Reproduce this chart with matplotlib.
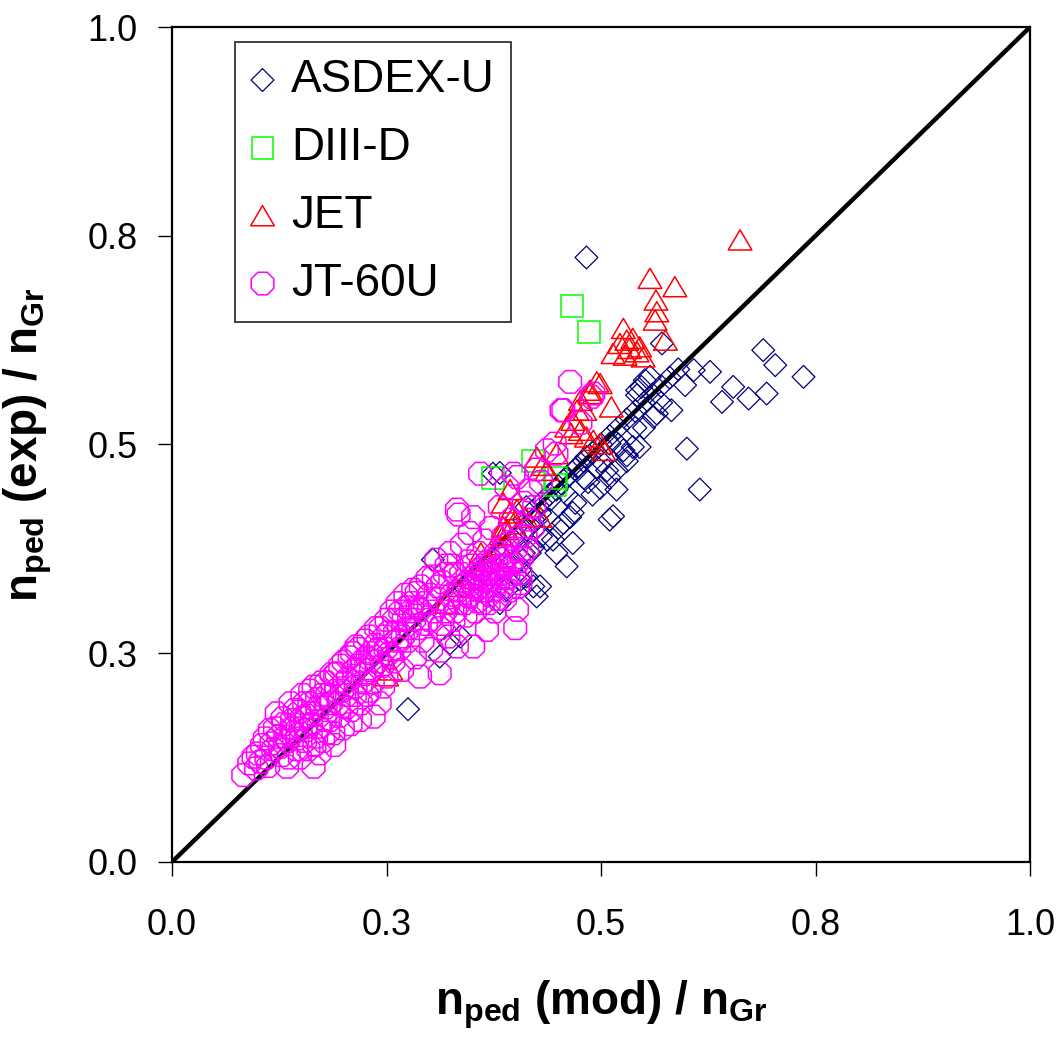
# pedestal density: experiment vs model, four machines
import numpy as np
import matplotlib.pyplot as plt
from matplotlib.path import Path

plt.rcParams['font.family'] = ['Liberation Sans', 'DejaVu Sans']
plt.rcParams['mathtext.fontset'] = 'custom'
plt.rcParams['mathtext.rm'] = 'Liberation Sans'
plt.rcParams['mathtext.bf'] = 'Liberation Sans:bold'
plt.rcParams['mathtext.it'] = 'Liberation Sans:italic'

# 축 눈금 (Excel 식 반올림 라벨)
ticks = [0.0, 0.25, 0.5, 0.75, 1.0]
tick_labels = ['0.0', '0.3', '0.5', '0.8', '1.0']

# ASDEX-U
asdex_x = [0.483, 0.571, 0.689, 0.703, 0.736, 0.627, 0.608, 0.598, 0.654, 0.641, 0.672, 0.693,
           0.551, 0.547, 0.557, 0.542, 0.542, 0.565, 0.582, 0.561, 0.600, 0.615, 0.545, 0.537,
           0.530, 0.526, 0.510, 0.518, 0.507, 0.495, 0.483, 0.472, 0.460, 0.518, 0.499, 0.485,
           0.514, 0.510, 0.467, 0.464, 0.456, 0.448, 0.441, 0.429, 0.421, 0.413, 0.425, 0.444,
           0.437, 0.467, 0.460, 0.448, 0.417, 0.413, 0.421, 0.406, 0.413, 0.429, 0.425, 0.421,
           0.406, 0.390, 0.382, 0.336, 0.324, 0.312, 0.275, 0.304, 0.374, 0.382,
           0.34, 0.36, 0.38, 0.40, 0.42, 0.43, 0.45, 0.47, 0.49, 0.50, 0.52, 0.53, 0.55, 0.56,
           0.58, 0.44, 0.46, 0.48, 0.50, 0.52, 0.54, 0.47, 0.49, 0.51, 0.53, 0.45, 0.43, 0.41,
           0.39, 0.37, 0.41, 0.44, 0.46, 0.48, 0.51, 0.54, 0.57, 0.55, 0.57, 0.59]
asdex_y = [0.724, 0.621, 0.613, 0.595, 0.581, 0.587, 0.589, 0.571, 0.569, 0.551, 0.555, 0.561,
           0.577, 0.569, 0.581, 0.559, 0.565, 0.537, 0.541, 0.533, 0.495, 0.446, 0.497, 0.497,
           0.487, 0.493, 0.501, 0.469, 0.469, 0.473, 0.485, 0.473, 0.461, 0.446, 0.448, 0.455,
           0.414, 0.410, 0.418, 0.413, 0.406, 0.446, 0.434, 0.418, 0.410, 0.425, 0.410, 0.386,
           0.386, 0.382, 0.354, 0.370, 0.370, 0.398, 0.377, 0.350, 0.342, 0.330, 0.318, 0.330,
           0.338, 0.326, 0.310, 0.270, 0.262, 0.246, 0.183, 0.362, 0.465, 0.466,
           0.33, 0.35, 0.37, 0.39, 0.42, 0.43, 0.45, 0.47, 0.49, 0.50, 0.52, 0.53, 0.55, 0.56,
           0.58, 0.41, 0.44, 0.46, 0.48, 0.50, 0.52, 0.43, 0.44, 0.46, 0.48, 0.40, 0.39, 0.37,
           0.36, 0.34, 0.41, 0.44, 0.46, 0.48, 0.51, 0.54, 0.57, 0.52, 0.55, 0.59]

# DIII-D
diiid_x = [0.466, 0.486, 0.421, 0.374, 0.448, 0.446]
diiid_y = [0.666, 0.635, 0.480, 0.460, 0.460, 0.452]

# JET
jet_x = [0.662, 0.557, 0.586, 0.564, 0.565, 0.563, 0.575, 0.526, 0.530, 0.537, 0.522, 0.514,
         0.545, 0.542, 0.533, 0.549, 0.528, 0.495, 0.487, 0.512, 0.476, 0.472, 0.481, 0.467,
         0.476, 0.483, 0.491, 0.503, 0.499, 0.499, 0.487, 0.460, 0.465, 0.448, 0.425, 0.437,
         0.432, 0.394, 0.386, 0.402, 0.429, 0.412, 0.398, 0.390, 0.383, 0.394, 0.386, 0.250,
         0.255, 0.32, 0.35, 0.37, 0.33, 0.36, 0.38]
jet_y = [0.745, 0.699, 0.689, 0.673, 0.659, 0.649, 0.625, 0.639, 0.625, 0.627, 0.621, 0.609,
         0.617, 0.611, 0.615, 0.605, 0.607, 0.575, 0.561, 0.545, 0.553, 0.541, 0.541, 0.529,
         0.517, 0.509, 0.505, 0.493, 0.501, 0.573, 0.565, 0.521, 0.513, 0.489, 0.485, 0.469,
         0.475, 0.446, 0.430, 0.422, 0.413, 0.413, 0.405, 0.398, 0.392, 0.418, 0.401, 0.223,
         0.230, 0.31, 0.34, 0.36, 0.33, 0.37, 0.38]

# JT-60U
jt_x = [0.083, 0.095, 0.098, 0.105, 0.110, 0.114, 0.118, 0.122, 0.124, 0.128, 0.130, 0.134,
        0.135, 0.138, 0.140, 0.142, 0.145, 0.148, 0.150, 0.152, 0.155, 0.157, 0.160, 0.162,
        0.165, 0.165, 0.168, 0.170, 0.172, 0.175, 0.178, 0.180, 0.182, 0.185, 0.188, 0.190,
        0.192, 0.195, 0.198, 0.200, 0.203, 0.205, 0.208, 0.210, 0.213, 0.215, 0.218, 0.220,
        0.222, 0.225, 0.228, 0.230, 0.232, 0.235, 0.238, 0.240, 0.242, 0.245, 0.248, 0.250,
        0.250, 0.253, 0.256, 0.258, 0.260, 0.263, 0.265, 0.268, 0.270, 0.272, 0.275, 0.278,
        0.281, 0.283, 0.285, 0.287, 0.289, 0.289, 0.292, 0.295, 0.298, 0.300, 0.302, 0.305,
        0.308, 0.310, 0.312, 0.312, 0.315, 0.318, 0.320, 0.322, 0.324, 0.326, 0.328, 0.330,
        0.332, 0.332, 0.334, 0.335, 0.338, 0.340, 0.342, 0.345, 0.347, 0.348, 0.350, 0.351,
        0.351, 0.353, 0.355, 0.357, 0.359, 0.359, 0.360, 0.362, 0.364, 0.366, 0.367, 0.368,
        0.370, 0.372, 0.374, 0.376, 0.378, 0.380, 0.382, 0.384, 0.386, 0.388, 0.390, 0.390,
        0.392, 0.395, 0.398, 0.400, 0.402, 0.402, 0.404, 0.406, 0.406, 0.406, 0.410, 0.414,
        0.418, 0.420, 0.425, 0.430, 0.437, 0.446, 0.448, 0.454, 0.456, 0.464, 0.476, 0.489,
        0.491,
        0.090, 0.100, 0.103, 0.108, 0.112, 0.116, 0.120, 0.126, 0.129, 0.132, 0.136, 0.139,
        0.143, 0.146, 0.149, 0.151, 0.154, 0.156, 0.159, 0.161, 0.163, 0.166, 0.169, 0.171,
        0.174, 0.176, 0.179, 0.181, 0.184, 0.186, 0.189, 0.191, 0.194, 0.196, 0.199, 0.201,
        0.204, 0.207, 0.209, 0.212, 0.214, 0.217, 0.219, 0.221, 0.224, 0.227, 0.229, 0.231,
        0.234, 0.237, 0.239, 0.243, 0.246, 0.249, 0.252, 0.255, 0.259, 0.262, 0.266, 0.269,
        0.273, 0.277, 0.280,
        0.330, 0.334, 0.337, 0.341, 0.344, 0.346, 0.349, 0.352, 0.354, 0.356, 0.358, 0.361,
        0.363, 0.365, 0.368, 0.369, 0.371, 0.373, 0.375, 0.377, 0.379, 0.381, 0.383, 0.385,
        0.387, 0.389, 0.391, 0.393, 0.396, 0.399, 0.401, 0.403, 0.408, 0.412, 0.416, 0.422,
        0.300, 0.305, 0.310, 0.315, 0.318, 0.322, 0.326, 0.296, 0.290, 0.286, 0.282]
jt_y = [0.104, 0.126, 0.112, 0.140, 0.125, 0.158, 0.135, 0.178, 0.150, 0.128, 0.165, 0.114,
        0.145, 0.190, 0.170, 0.155, 0.135, 0.180, 0.160, 0.200, 0.145, 0.175, 0.190, 0.165,
        0.114, 0.210, 0.150, 0.185, 0.130, 0.200, 0.170, 0.215, 0.155, 0.190, 0.154, 0.225,
        0.226, 0.175, 0.205, 0.240, 0.185, 0.220, 0.165, 0.250, 0.200, 0.258, 0.235, 0.190,
        0.215, 0.265, 0.245, 0.205, 0.230, 0.174, 0.280, 0.255, 0.190, 0.235, 0.270, 0.222,
        0.290, 0.250, 0.300, 0.240, 0.275, 0.310, 0.255, 0.230, 0.290, 0.320, 0.265, 0.300,
        0.326, 0.245, 0.322, 0.280, 0.302, 0.222, 0.265, 0.310, 0.340, 0.290, 0.255, 0.342,
        0.362, 0.315, 0.226, 0.280, 0.335, 0.300, 0.355, 0.270, 0.370, 0.320, 0.290, 0.345,
        0.258, 0.422, 0.416, 0.310, 0.380, 0.330, 0.295, 0.360, 0.394, 0.320, 0.340, 0.258,
        0.413, 0.300, 0.326, 0.370, 0.465, 0.330, 0.350, 0.310, 0.385, 0.340, 0.278, 0.360,
        0.320, 0.400, 0.345, 0.300, 0.370, 0.335, 0.425, 0.355, 0.390, 0.315, 0.449, 0.365,
        0.340, 0.410, 0.465, 0.280, 0.302, 0.461, 0.360, 0.390, 0.346, 0.334, 0.430, 0.375,
        0.445, 0.400, 0.470, 0.455, 0.493, 0.501, 0.489, 0.541, 0.541, 0.575, 0.526, 0.557,
        0.561,
        0.118, 0.130, 0.120, 0.148, 0.115, 0.142, 0.160, 0.138, 0.172, 0.150, 0.125, 0.160,
        0.182, 0.148, 0.125, 0.172, 0.190, 0.158, 0.135, 0.205, 0.178, 0.140, 0.195, 0.162,
        0.215, 0.145, 0.185, 0.200, 0.170, 0.225, 0.140, 0.205, 0.190, 0.235, 0.160, 0.215,
        0.200, 0.245, 0.182, 0.230, 0.210, 0.255, 0.170, 0.240, 0.225, 0.200, 0.270, 0.250,
        0.215, 0.260, 0.240, 0.280, 0.210, 0.255, 0.275, 0.245, 0.290, 0.265, 0.300, 0.270,
        0.305, 0.280, 0.310,
        0.300, 0.325, 0.345, 0.310, 0.335, 0.318, 0.355, 0.330, 0.345, 0.312, 0.340, 0.325,
        0.355, 0.330, 0.345, 0.310, 0.338, 0.360, 0.325, 0.350, 0.315, 0.345, 0.370, 0.330,
        0.355, 0.340, 0.380, 0.325, 0.360, 0.345, 0.375, 0.330, 0.365, 0.390, 0.410, 0.425,
        0.320, 0.300, 0.330, 0.285, 0.345, 0.310, 0.355, 0.285, 0.330, 0.305, 0.290]

# 납작한 삼각형 마커
tri = Path([(-1, -0.85), (1, -0.85), (0, 0.85), (-1, -0.85)],
           [Path.MOVETO, Path.LINETO, Path.LINETO, Path.CLOSEPOLY])

fig = plt.figure(figsize=(10.58, 10.39), dpi=100)
ax = fig.add_axes([0.1626, 0.1704, 0.8110, 0.8036])

ax.plot([0, 1], [0, 1], color='black', lw=3.2, zorder=1)

ax.scatter(asdex_x, asdex_y, marker='D', s=135, facecolors='none', edgecolors='#000080',
           linewidths=0.9, label='ASDEX-U', zorder=3)
ax.scatter(diiid_x, diiid_y, marker='s', s=250, facecolors='none', edgecolors='#00FF00',
           linewidths=1.1, label='DIII-D', zorder=4)
ax.scatter(jet_x, jet_y, marker=tri, s=290, facecolors='none', edgecolors='#FF0000',
           linewidths=1.1, label='JET', zorder=5)
ax.scatter(jt_x, jt_y, marker='8', s=310, facecolors='none', edgecolors='#FF00FF',
           linewidths=1.1, label='JT-60U', zorder=6)

ax.set_xlim(0, 1)
ax.set_ylim(0, 1)
ax.set_xticks(ticks)
ax.set_xticklabels(tick_labels)
ax.set_yticks(ticks)
ax.set_yticklabels(tick_labels)
ax.tick_params(direction='out', length=10, width=1, labelsize=26)
ax.tick_params(axis='x', pad=23)
ax.tick_params(axis='y', pad=15)
for sp in ax.spines.values():
    sp.set_linewidth(1.6)

ax.set_xlabel(r'$\mathbf{n_{ped}\ (mod)\ /\ n_{Gr}}$', fontsize=33, labelpad=26)
ax.set_ylabel(r'$\mathbf{n_{ped}\ (exp)\ /\ n_{Gr}}$', fontsize=33, labelpad=24)

leg = ax.legend(loc='upper left', bbox_to_anchor=(0.0734, 0.982), borderaxespad=0,
                fontsize=33, frameon=True, fancybox=False, edgecolor='black',
                handlelength=0.5, handletextpad=0.37, labelspacing=0.52, borderpad=0.35,
                scatterpoints=1)
leg.get_frame().set_linewidth(1.3)

plt.savefig('out.png', dpi=100)
